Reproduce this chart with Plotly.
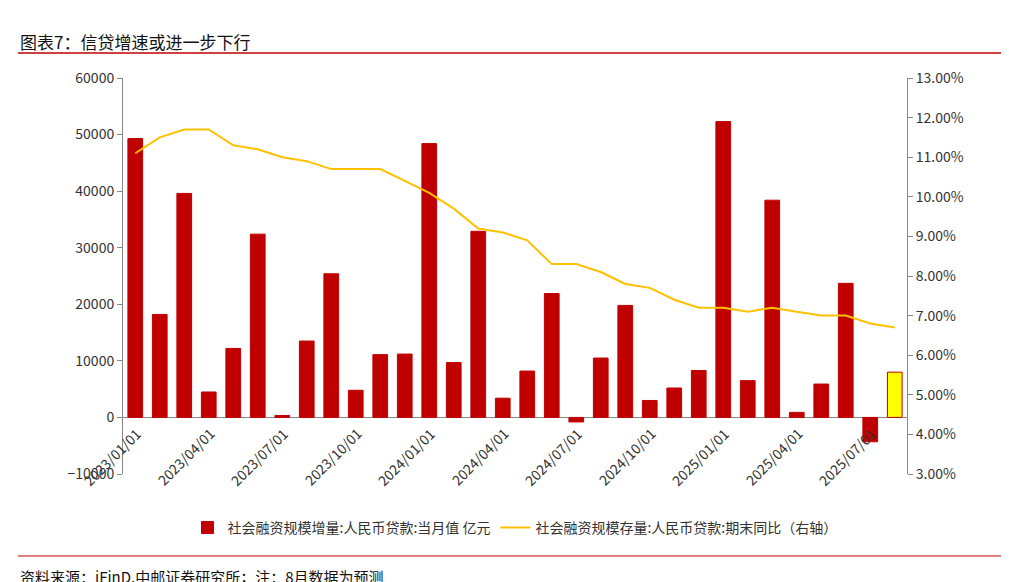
import plotly.graph_objects as go

months = [f"{y}/{m:02d}/01" for y in (2023, 2024, 2025) for m in range(1, 13)][:32]
flow = [49300, 18200, 39600, 4500, 12200, 32400, 350, 13500, 25400, 4800, 11100, 11200,
        48400, 9700, 32900, 3400, 8200, 21900, -800, 10500, 19800, 3000, 5200, 8300,
        52300, 6500, 38400, 900, 5900, 23700, -4300, 8000]
yoy = [11.1, 11.5, 11.7, 11.7, 11.3, 11.2, 11.0, 10.9, 10.7, 10.7, 10.7, 10.4,
       10.1, 9.7, 9.2, 9.1, 8.9, 8.3, 8.3, 8.1, 7.8, 7.7, 7.4, 7.2,
       7.2, 7.1, 7.2, 7.1, 7.0, 7.0, 6.8, 6.7]
tick_months = months[::3]

bar_colors = ["#C00000"] * (len(flow) - 1) + ["#FFFF00"]

font = "Noto Sans CJK SC"
fig = go.Figure()
fig.add_trace(go.Bar(x=months, y=flow, name="社会融资规模增量:人民币贷款:当月值 亿元",
                     marker=dict(color=bar_colors, line=dict(color="#C00000", width=1)),
                     width=0.6))
fig.add_trace(go.Scatter(x=months, y=yoy, name="社会融资规模存量:人民币贷款:期末同比（右轴）",
                         yaxis="y2", mode="lines", line=dict(color="#FFC000", width=2)))

for m in tick_months:
    fig.add_annotation(x=m, y=-600, xref="x", yref="y", text=m, showarrow=False,
                       textangle=-45, xanchor="right", yanchor="top", xshift=12,
                       font=dict(size=14, color="#333"))

fig.update_layout(
    width=1009, height=582, plot_bgcolor="white", paper_bgcolor="white",
    font=dict(family=font, size=14, color="#333"),
    margin=dict(l=115, r=110, t=70, b=116),
    xaxis=dict(type="category", range=[-0.5, 31.5], showticklabels=False,
               showline=False, ticks=""),
    yaxis=dict(range=[-10000, 60000], dtick=10000, tickformat="d", showgrid=False,
               zeroline=True, zerolinecolor="#888", zerolinewidth=1, showline=True,
               linecolor="#888", ticks="outside", tickcolor="#888"),
    yaxis2=dict(range=[3, 13], dtick=1, overlaying="y", side="right", showgrid=False,
                showline=True, linecolor="#888", ticks="outside", tickcolor="#888",
                ticksuffix="%", tickformat=".2f"),
    legend=dict(orientation="h", x=0.5, xanchor="center", y=-0.136, yanchor="middle",
                font=dict(size=14)),
)
fig.add_annotation(x=-0.134, y=1.13, xref="paper", yref="paper", xanchor="left", yanchor="top",
                   text="图表7：信贷增速或进一步下行", showarrow=False,
                   font=dict(size=17, color="#111"))
fig.add_shape(type="line", xref="paper", yref="paper", x0=-0.134, x1=1.129, y0=1.063, y1=1.063,
              line=dict(color="#C00000", width=1.5))
fig.add_shape(type="line", xref="paper", yref="paper", x0=-0.134, x1=1.129, y0=-0.207, y1=-0.207,
              line=dict(color="#C00000", width=1))
fig.add_annotation(x=-0.134, y=-0.228, xref="paper", yref="paper", xanchor="left", yanchor="top",
                   text="资料来源：iFinD,中邮证券研究所；注：8月数据为预测", showarrow=False,
                   font=dict(size=15, color="#111"))
fig.write_html("out.html")
